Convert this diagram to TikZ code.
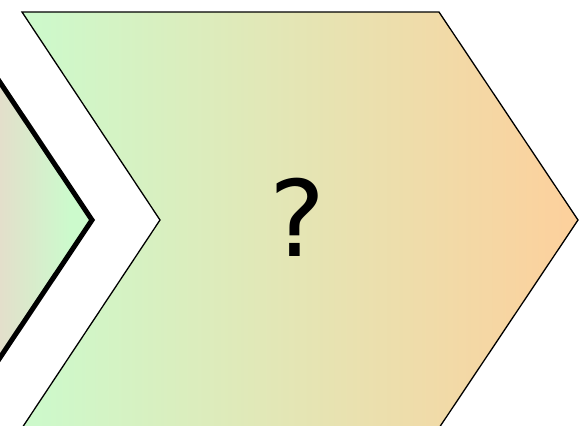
\documentclass[tikz,border=0pt]{standalone}
\usepackage{fontspec}
\setmainfont{DejaVu Sans}
\definecolor{greenc}{HTML}{CCFACC}
\definecolor{orangec}{HTML}{FDD09C}
\definecolor{leftc}{HTML}{E3DFCB}
\tikzset{
  bigchev/.style={draw=black, line width=1.3bp, line join=miter, left color=greenc, right color=orangec},
  smallchev/.style={draw=black, line width=5bp, line join=miter}
}
\begin{document}
\begin{tikzpicture}[x=1bp,y=-1bp]
\useasboundingbox (0,0) rectangle (588,425);
\clip (0,0) rectangle (588,425);
% left (previous) chevron, partly off-canvas
\begin{scope}
  \clip (-400,12) -- (-47,12) -- (92,220) -- (-47,428) -- (-400,428) -- cycle;
  \shade[left color=leftc, right color=greenc] (0,0) rectangle (70,425);
  \fill[greenc] (70,0) rectangle (100,425);
\end{scope}
\draw[smallchev] (-400,12) -- (-47,12) -- (92,220) -- (-47,428) -- (-400,428) -- cycle;
% main chevron
\shade[bigchev] (22,12) -- (439,12) -- (578,220) -- (439,428) -- (22,428) -- (160,220) -- cycle;
\node (q) at (298,217) {\fontsize{106}{106}\selectfont ?};
\end{tikzpicture}
\end{document}
